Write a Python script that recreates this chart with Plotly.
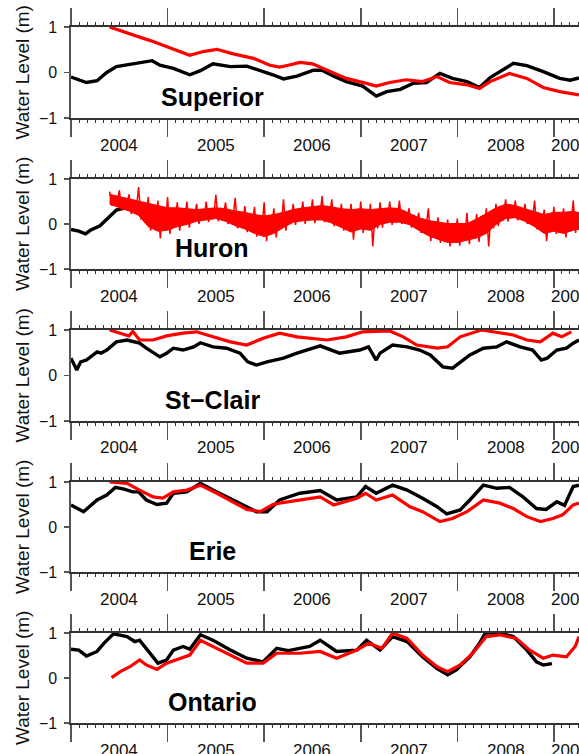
import plotly.graph_objects as go

# ---------------- data (decimal years, water level in m) ----------------
lakes = ["Superior", "Huron", "St\u2212Clair", "Erie", "Ontario"]
year_labels = ["2004", "2005", "2006", "2007", "2008", "2009"]
ytick_vals = [-1, 0, 1]
ytick_text = ["\u22121", "0", "1"]

sup_obs_t = [2004.00, 2004.08, 2004.16, 2004.27, 2004.37, 2004.47, 2004.64, 2004.75, 2004.84, 2004.92,
             2005.06, 2005.23, 2005.34, 2005.47, 2005.65, 2005.82, 2005.96, 2006.09, 2006.20, 2006.34,
             2006.51, 2006.60, 2006.72, 2006.85, 2007.02, 2007.16, 2007.27, 2007.41, 2007.54, 2007.68,
             2007.82, 2007.95, 2008.10, 2008.23, 2008.34, 2008.44, 2008.58, 2008.72, 2008.89, 2009.06,
             2009.17, 2009.26]
sup_obs_v = [-0.10, -0.17, -0.22, -0.18, 0.00, 0.13, 0.19, 0.23, 0.26, 0.16,
             0.09, -0.05, 0.04, 0.19, 0.13, 0.14, 0.05, -0.05, -0.14, -0.08,
             0.05, 0.05, -0.08, -0.20, -0.30, -0.52, -0.42, -0.37, -0.24, -0.22,
             -0.02, -0.13, -0.20, -0.33, -0.11, 0.02, 0.20, 0.15, 0.02, -0.13,
             -0.17, -0.12]
sup_mod_t = [2004.40, 2004.58, 2004.75, 2004.85, 2004.99, 2005.23, 2005.37, 2005.51, 2005.68, 2005.89,
             2006.06, 2006.16, 2006.25, 2006.37, 2006.50, 2006.65, 2006.85, 2007.06, 2007.16, 2007.30,
             2007.47, 2007.64, 2007.79, 2007.92, 2008.10, 2008.23, 2008.34, 2008.54, 2008.72, 2008.89,
             2009.06, 2009.26]
sup_mod_v = [1.00, 0.88, 0.75, 0.68, 0.57, 0.38, 0.46, 0.51, 0.41, 0.31,
             0.16, 0.12, 0.16, 0.22, 0.19, 0.05, -0.13, -0.24, -0.30, -0.22,
             -0.16, -0.20, -0.09, -0.22, -0.27, -0.35, -0.20, -0.02, -0.13, -0.33,
             -0.42, -0.49]

hur_obs_t = [2004.00, 2004.08, 2004.15, 2004.20, 2004.30, 2004.40, 2004.47, 2004.58, 2004.70, 2004.80,
             2004.90, 2005.00, 2005.20, 2005.40, 2005.50, 2005.60, 2005.80, 2006.00, 2006.10, 2006.20,
             2006.35, 2006.50, 2006.60, 2006.75, 2006.90, 2007.00, 2007.20, 2007.35, 2007.50, 2007.70,
             2007.85, 2008.00, 2008.20, 2008.35, 2008.50, 2008.60, 2008.75, 2008.90, 2009.10, 2009.26]
hur_obs_v = [-0.12, -0.16, -0.22, -0.14, -0.04, 0.16, 0.31, 0.37, 0.26, 0.18,
             0.10, 0.08, 0.12, 0.20, 0.22, 0.18, 0.05, -0.15, -0.12, 0.00,
             0.15, 0.22, 0.22, 0.12, -0.02, -0.05, 0.05, 0.12, 0.05, -0.20,
             -0.32, -0.36, -0.25, -0.05, 0.20, 0.20, 0.05, -0.08, -0.05, 0.00]
# Huron model: very noisy. Solid core of the red band (read every 0.1 yr) ...
hur_band_t = [round(2004.40 + 0.1 * i, 2) for i in range(50)]
hur_band_top = [0.66, 0.61, 0.56, 0.51, 0.46, 0.41, 0.36, 0.36, 0.34, 0.32,
                0.34, 0.36, 0.34, 0.29, 0.26, 0.21, 0.18, 0.21, 0.26, 0.32,
                0.36, 0.38, 0.41, 0.38, 0.34, 0.32, 0.34, 0.32, 0.34, 0.36,
                0.34, 0.24, 0.14, 0.08, 0.04, 0.01, 0.01, 0.01, 0.11, 0.24,
                0.36, 0.44, 0.41, 0.34, 0.28, 0.21, 0.26, 0.26, 0.28, 0.24]
hur_band_bot = [0.44, 0.36, 0.29, 0.19, -0.06, -0.16, -0.14, -0.06, -0.01, 0.06,
                0.09, 0.12, 0.06, -0.04, -0.11, -0.21, -0.28, -0.21, -0.08, 0.04,
                0.07, 0.09, 0.09, 0.02, -0.08, -0.18, -0.11, -0.14, -0.01, 0.04,
                0.04, -0.01, -0.14, -0.26, -0.34, -0.41, -0.41, -0.36, -0.31, -0.21,
                -0.01, 0.12, 0.14, 0.06, -0.06, -0.21, -0.16, -0.21, -0.14, -0.11]
# ... and the spike extremes above / below it (read every 0.05 yr)
hur_mod_t = [round(2004.40 + 0.05 * i, 2) for i in range(98)]
hur_mod_hi = [0.72, 0.60, 0.75, 0.58, 0.66, 0.52, 0.82, 0.45, 0.60, 0.40,
              0.52, 0.35, 0.60, 0.32, 0.48, 0.30, 0.50, 0.30, 0.45, 0.32,
              0.50, 0.34, 0.65, 0.36, 0.48, 0.30, 0.58, 0.28, 0.40, 0.22,
              0.38, 0.18, 0.48, 0.20, 0.35, 0.22, 0.55, 0.28, 0.45, 0.32,
              0.50, 0.36, 0.55, 0.38, 0.62, 0.40, 0.55, 0.34, 0.45, 0.30,
              0.45, 0.30, 0.50, 0.32, 0.45, 0.30, 0.48, 0.34, 0.50, 0.36,
              0.52, 0.30, 0.35, 0.20, 0.25, 0.12, 0.35, 0.06, 0.15, 0.02,
              0.10, 0.00, 0.12, 0.02, 0.25, 0.05, 0.22, 0.18, 0.35, 0.30,
              0.45, 0.40, 0.55, 0.44, 0.52, 0.36, 0.45, 0.30, 0.52, 0.22,
              0.32, 0.20, 0.38, 0.25, 0.35, 0.22, 0.52, 0.25]
hur_mod_lo = [0.40, 0.45, 0.30, 0.38, 0.22, 0.30, 0.10, 0.15, -0.15, 0.00,
              -0.32, -0.10, -0.22, -0.05, -0.15, 0.00, -0.08, 0.05, 0.00, 0.10,
              0.04, 0.12, 0.06, 0.12, 0.00, 0.08, -0.10, 0.00, -0.18, -0.05,
              -0.28, -0.12, -0.38, -0.18, -0.30, -0.10, -0.15, 0.00, -0.02, 0.08,
              0.00, 0.10, 0.02, 0.12, 0.04, 0.10, -0.05, 0.05, -0.15, -0.02,
              -0.35, -0.10, -0.20, -0.08, -0.50, -0.10, -0.08, 0.02, -0.02, 0.06,
              0.00, 0.04, -0.08, -0.02, -0.20, -0.10, -0.38, -0.22, -0.42, -0.30,
              -0.50, -0.36, -0.48, -0.34, -0.45, -0.30, -0.40, -0.20, -0.50, -0.10,
              -0.05, 0.08, 0.05, 0.14, 0.08, 0.12, 0.00, 0.05, -0.12, -0.05,
              -0.38, -0.15, -0.22, -0.12, -0.30, -0.15, -0.20, -0.10]

stc_obs_t = [2004.00, 2004.06, 2004.10, 2004.16, 2004.27, 2004.31, 2004.37, 2004.47, 2004.58, 2004.64,
             2004.71, 2004.78, 2004.92, 2004.99, 2005.06, 2005.16, 2005.27, 2005.34, 2005.47, 2005.61,
             2005.75, 2005.83, 2005.92, 2006.03, 2006.20, 2006.34, 2006.58, 2006.78, 2006.99, 2007.08,
             2007.16, 2007.20, 2007.33, 2007.48, 2007.61, 2007.72, 2007.85, 2007.95, 2008.04, 2008.13,
             2008.27, 2008.41, 2008.51, 2008.65, 2008.78, 2008.87, 2008.93, 2009.03, 2009.13, 2009.20,
             2009.26]
stc_obs_v = [0.38, 0.12, 0.30, 0.34, 0.52, 0.49, 0.56, 0.74, 0.78, 0.74,
             0.71, 0.60, 0.41, 0.49, 0.60, 0.56, 0.63, 0.72, 0.63, 0.60,
             0.49, 0.30, 0.23, 0.30, 0.38, 0.49, 0.65, 0.49, 0.56, 0.63,
             0.34, 0.49, 0.67, 0.63, 0.56, 0.45, 0.19, 0.16, 0.30, 0.45,
             0.60, 0.63, 0.74, 0.63, 0.56, 0.34, 0.38, 0.56, 0.60, 0.71,
             0.78]
stc_mod_t = [2004.40, 2004.51, 2004.60, 2004.64, 2004.71, 2004.85, 2004.99, 2005.16, 2005.30, 2005.47,
             2005.65, 2005.82, 2005.99, 2006.16, 2006.34, 2006.65, 2006.85, 2007.02, 2007.30, 2007.44,
             2007.58, 2007.79, 2007.90, 2008.03, 2008.16, 2008.25, 2008.40, 2008.58, 2008.72, 2008.86,
             2008.99, 2009.08, 2009.18]
stc_mod_v = [1.00, 0.93, 0.87, 0.97, 0.78, 0.78, 0.87, 0.93, 0.96, 0.85,
             0.74, 0.67, 0.82, 0.93, 0.85, 0.78, 0.85, 0.96, 0.98, 0.85,
             0.67, 0.60, 0.63, 0.85, 0.93, 1.00, 0.95, 0.89, 0.78, 0.74,
             0.93, 0.85, 0.96]

eri_obs_t = [2004.00, 2004.13, 2004.27, 2004.37, 2004.46, 2004.55, 2004.64, 2004.70, 2004.78, 2004.89,
             2004.99, 2005.06, 2005.20, 2005.34, 2005.47, 2005.68, 2005.82, 2005.92, 2006.03, 2006.16,
             2006.37, 2006.58, 2006.75, 2006.96, 2007.05, 2007.16, 2007.33, 2007.48, 2007.64, 2007.79,
             2007.89, 2008.03, 2008.13, 2008.27, 2008.41, 2008.54, 2008.68, 2008.82, 2008.92, 2009.03,
             2009.11, 2009.20, 2009.26]
eri_obs_v = [0.49, 0.34, 0.60, 0.71, 0.88, 0.84, 0.78, 0.78, 0.60, 0.50,
             0.53, 0.75, 0.78, 0.97, 0.82, 0.60, 0.45, 0.34, 0.34, 0.60,
             0.75, 0.81, 0.60, 0.67, 0.90, 0.75, 0.93, 0.82, 0.64, 0.45,
             0.29, 0.38, 0.60, 0.93, 0.86, 0.88, 0.67, 0.41, 0.39, 0.56,
             0.48, 0.90, 0.93]
eri_mod_t = [2004.40, 2004.58, 2004.71, 2004.85, 2004.95, 2005.06, 2005.20, 2005.34, 2005.51, 2005.68,
             2005.82, 2005.96, 2006.09, 2006.16, 2006.37, 2006.58, 2006.72, 2006.96, 2007.05, 2007.16,
             2007.33, 2007.51, 2007.64, 2007.82, 2007.95, 2008.10, 2008.27, 2008.44, 2008.58, 2008.72,
             2008.86, 2008.99, 2009.09, 2009.20, 2009.26]
eri_mod_v = [1.00, 0.97, 0.82, 0.67, 0.64, 0.78, 0.82, 0.93, 0.75, 0.56,
             0.39, 0.34, 0.50, 0.53, 0.60, 0.67, 0.49, 0.64, 0.75, 0.60,
             0.71, 0.45, 0.34, 0.12, 0.19, 0.34, 0.60, 0.53, 0.41, 0.23,
             0.12, 0.19, 0.27, 0.49, 0.53]

ont_obs_t = [2004.00, 2004.08, 2004.16, 2004.27, 2004.34, 2004.44, 2004.58, 2004.66, 2004.71, 2004.82,
             2004.90, 2004.99, 2005.06, 2005.16, 2005.23, 2005.34, 2005.47, 2005.65, 2005.82, 2005.99,
             2006.13, 2006.25, 2006.47, 2006.58, 2006.75, 2006.96, 2007.06, 2007.20, 2007.33, 2007.48,
             2007.64, 2007.79, 2007.90, 2007.99, 2008.13, 2008.23, 2008.29, 2008.44, 2008.58, 2008.72,
             2008.82, 2008.89, 2008.98]
ont_obs_v = [0.64, 0.62, 0.49, 0.59, 0.77, 0.98, 0.92, 0.81, 0.84, 0.55,
             0.33, 0.40, 0.62, 0.70, 0.64, 0.96, 0.84, 0.62, 0.44, 0.36,
             0.66, 0.61, 0.70, 0.84, 0.59, 0.62, 0.84, 0.62, 0.92, 0.81,
             0.47, 0.21, 0.07, 0.18, 0.47, 0.77, 1.00, 1.00, 0.92, 0.62,
             0.36, 0.29, 0.32]
ont_mod_t = [2004.42, 2004.51, 2004.61, 2004.71, 2004.78, 2004.89, 2004.99, 2005.13, 2005.23, 2005.34,
             2005.47, 2005.65, 2005.82, 2005.99, 2006.13, 2006.37, 2006.58, 2006.75, 2006.96, 2007.08,
             2007.22, 2007.33, 2007.48, 2007.64, 2007.79, 2007.90, 2008.03, 2008.16, 2008.30, 2008.44,
             2008.61, 2008.75, 2008.89, 2008.99, 2009.13, 2009.22, 2009.26]
ont_mod_v = [0.01, 0.14, 0.25, 0.40, 0.29, 0.19, 0.33, 0.44, 0.51, 0.84,
             0.70, 0.51, 0.33, 0.33, 0.55, 0.55, 0.59, 0.44, 0.62, 0.77,
             0.66, 1.00, 0.88, 0.51, 0.25, 0.14, 0.29, 0.55, 0.92, 0.96,
             0.88, 0.62, 0.44, 0.51, 0.47, 0.70, 0.92]

# ---------------- layout helpers ----------------
W, H = 579, 754
L_MARGIN = 71
X0, X1 = 2004.0, 2009.26          # visible x range
X_FULL_END = 2009.34              # end of original axis (beyond crop)
panel_px = [(27, 118), (179, 269), (330, 421), (482, 572), (633, 723)]  # top, bottom pixel rows

FONT = "Liberation Sans, Arial, Helvetica, sans-serif"
BLACK = "#000000"
RED = "#ff0000"
AXC = "#333333"
TICKC = "#555555"

fig = go.Figure()

obs = [(sup_obs_t, sup_obs_v), (hur_obs_t, hur_obs_v), (stc_obs_t, stc_obs_v),
       (eri_obs_t, eri_obs_v), (ont_obs_t, ont_obs_v)]
mods = [(sup_mod_t, sup_mod_v), None, (stc_mod_t, stc_mod_v),
        (eri_mod_t, eri_mod_v), (ont_mod_t, ont_mod_v)]

# Huron spikes drawn as a zig-zag between the read extremes
hur_zz_t, hur_zz_v = [], []
for t, hi, lo in zip(hur_mod_t, hur_mod_hi, hur_mod_lo):
    hur_zz_t += [t, t + 0.025]
    hur_zz_v += [hi, lo]

annotations = []
for i in range(5):
    n = "" if i == 0 else str(i + 1)
    xa, ya = "x" + n, "y" + n
    t, v = obs[i]
    fig.add_trace(go.Scatter(x=t, y=v, mode="lines", xaxis=xa, yaxis=ya,
                             line=dict(color=BLACK, width=3.4), showlegend=False, hoverinfo="skip"))
    if mods[i] is None:
        fig.add_trace(go.Scatter(x=hur_band_t, y=hur_band_bot, mode="lines", xaxis=xa, yaxis=ya,
                                 line=dict(color=RED, width=1), showlegend=False, hoverinfo="skip"))
        fig.add_trace(go.Scatter(x=hur_band_t, y=hur_band_top, mode="lines", xaxis=xa, yaxis=ya,
                                 fill="tonexty", fillcolor=RED,
                                 line=dict(color=RED, width=1), showlegend=False, hoverinfo="skip"))
        fig.add_trace(go.Scatter(x=hur_zz_t, y=hur_zz_v, mode="lines", xaxis=xa, yaxis=ya,
                                 line=dict(color=RED, width=1.5), showlegend=False, hoverinfo="skip"))
    else:
        mt, mv = mods[i]
        fig.add_trace(go.Scatter(x=mt, y=mv, mode="lines", xaxis=xa, yaxis=ya,
                                 line=dict(color=RED, width=3.2), showlegend=False, hoverinfo="skip"))

    top, bot = panel_px[i]
    dom = [1 - bot / H, 1 - top / H]
    fig.update_layout(**{
        "xaxis" + n: dict(domain=[0, 1], range=[X0, X1], anchor=ya, automargin=False,
                          tickmode="linear", tick0=2004, dtick=1,
                          ticks="outside", ticklen=17, tickwidth=1.6, tickcolor=TICKC,
                          showticklabels=False, showgrid=False, zeroline=False,
                          showline=True, linecolor=AXC, linewidth=1.6, mirror="ticks",
                          minor=dict(ticks="outside", ticklen=3, tickwidth=1, tickcolor=AXC,
                                     tick0=2004, dtick=1 / 12, showgrid=False)),
        "yaxis" + n: dict(domain=dom, range=[-1, 1], anchor=xa, automargin=False,
                          tickmode="array", tickvals=ytick_vals, ticktext=ytick_text,
                          ticks="outside", ticklen=5, tickwidth=1.4, tickcolor=TICKC,
                          tickfont=dict(family=FONT, size=16, color="#111"),
                          ticklabelstandoff=4,
                          showgrid=False, zeroline=False,
                          showline=True, linecolor=TICKC, linewidth=1.6),
    })
    # lake name
    annotations.append(dict(xref=xa, yref=ya, x=2005.46, y=-0.53, text="<b>%s</b>" % lakes[i],
                            showarrow=False, font=dict(family=FONT, size=25, color="#000"),
                            xanchor="center", yanchor="middle"))
    # y title
    annotations.append(dict(xref="paper", yref=ya + " domain", x=(22 - L_MARGIN) / (W - L_MARGIN), y=0.5,
                            text="Water Level (m)", textangle=-90, showarrow=False,
                            font=dict(family=FONT, size=19, color="#111"),
                            xanchor="center", yanchor="middle"))
    # year labels centred in each year interval
    for k, lab in enumerate(year_labels):
        yr = 2004 + k
        lo, hi = max(yr, X0), min(yr + 1, X_FULL_END)
        cx = (lo + hi) / 2
        annotations.append(dict(xref="paper", yref=ya + " domain", x=(cx - X0) / (X1 - X0), y=0,
                                yshift=-27, text=lab, showarrow=False,
                                font=dict(family=FONT, size=17, color="#111"),
                                xanchor="center", yanchor="middle"))

fig.update_layout(width=W, height=H, margin=dict(l=L_MARGIN, r=0, t=0, b=0, autoexpand=False),
                  template="none",
                  paper_bgcolor="white", plot_bgcolor="white",
                  annotations=annotations, showlegend=False)

fig.write_html("out.html", config={"displayModeBar": False, "staticPlot": True},
               post_script="document.body.style.margin='0px';document.body.style.overflow='hidden';")
